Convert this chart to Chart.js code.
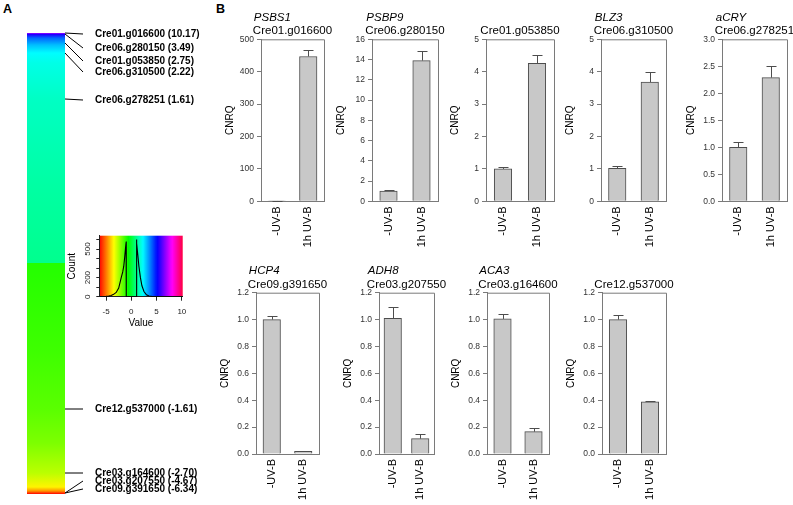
<!DOCTYPE html>
<html><head><meta charset="utf-8">
<script src="https://cdn.jsdelivr.net/npm/chart.js@4.4.1/dist/chart.umd.min.js"></script>
<style>
html,body{margin:0;padding:0;background:#fff;}
#wrap{position:relative;width:793px;height:505px;overflow:hidden;font-family:'Liberation Sans',Arial,sans-serif;background:#fff;}
canvas{position:absolute;}
.plabel{position:absolute;font-weight:bold;font-size:12.5px;line-height:12.5px;color:#000;}
</style></head><body><div id="wrap">
<div class="plabel" style="left:3px;top:3px">A</div>
<div class="plabel" style="left:216px;top:3px">B</div>
</div>
<script>
const FONT = "'Liberation Sans', Arial, sans-serif";

// ---------- Panel A: sorted log2 fold-change column ----------
const fcMin = -6.34, fcMax = 10.17;
const heatRows = 461;
const heatRow   = [0, 1.5, 5, 12, 20, 30, 66, 150, 230, 230, 320, 376, 410, 440, 454, 458, 461];
const heatValue = [7.0, 5.5, 4.0, 3.0, 2.3, 2.0, 1.61, 1.25, 1.0, -1.0, -1.3, -1.61, -2.0, -2.7, -3.6, -4.67, -6.34];

const labelIds     = ['Cre01.g016600','Cre06.g280150','Cre01.g053850','Cre06.g310500','Cre06.g278251','Cre12.g537000','Cre03.g164600','Cre03.g207550','Cre09.g391650'];
const labelFC      = [10.17, 3.49, 2.75, 2.22, 1.61, -1.61, -2.70, -4.67, -6.34];
const labelGeneRow = [0, 1, 10, 20, 66, 376, 440, 460, 460];
const labelTextRow = [1, 15, 28, 39, 67, 376, 440, 448, 456];

// ---------- Colour key histogram ----------
const keyX     = [-6.34,-5.5,-5.0,-4.5,-4.0,-3.5,-3.0,-2.5,-2.0,-1.7,-1.5,-1.3,-1.15,-1.03,-1.0,-1.0,1.0,1.0,1.1,1.3,1.5,1.8,2.1,2.5,3.0,3.5,4.0,5.0,6.0,10.17];
const keyCount = [0,1,3,6,12,25,45,90,200,260,320,420,510,570,580,0,0,600,560,430,320,200,115,55,20,8,3,1,0,0];
const keyXTicks  = [-5, 0, 5, 10];
const keyYTicks  = [0, 100, 200, 300, 400, 500, 600];
const keyYLabels = [0, 200, 500];

// ---------- Panel B: qRT-PCR ----------
const conditions = ['-UV-B', '1h UV-B'];
const geneNames  = ['PSBS1','PSBP9','','BLZ3','aCRY','HCP4','ADH8','ACA3',''];
const geneIds    = ['Cre01.g016600','Cre06.g280150','Cre01.g053850','Cre06.g310500','Cre06.g278251','Cre09.g391650','Cre03.g207550','Cre03.g164600','Cre12.g537000'];
const meanNoUV   = [1, 1.02, 1.0, 1.02, 1.0, 1.0, 1.01, 1.005, 1.0];
const errNoUV    = [1, 0.05, 0.06, 0.08, 0.09, 0.025, 0.085, 0.04, 0.032];
const mean1hUV   = [447, 13.9, 4.26, 3.68, 2.29, 0.02, 0.114, 0.166, 0.389];
const err1hUV    = [20, 0.9, 0.25, 0.3, 0.21, 0.003, 0.037, 0.025, 0.008];
const yMax       = [500, 16, 5, 5, 3, 1.2, 1.2, 1.2, 1.2];
const yStep      = [100, 2, 1, 1, 0.5, 0.2, 0.2, 0.2, 0.2];
const yDecimals  = [0, 0, 0, 0, 1, 1, 1, 1, 1];

// layout (pixels)
const plotLeft  = [261, 372, 486, 601, 722, 256, 379, 487, 602];
const plotRight = [324, 438, 554, 666, 787, 319, 434, 549, 666];
const rowTop = [39.3, 292.7], rowBottom = [201.3, 454];

function fcColor(v){
  const t = Math.max(0, Math.min(1, (v - fcMin) / (fcMax - fcMin)));
  return 'hsl(' + (t * 345).toFixed(1) + ',100%,50%)';
}
function mk(x, y, w, h){
  const c = document.createElement('canvas');
  c.width = w; c.height = h;
  c.style.left = x + 'px'; c.style.top = y + 'px';
  c.style.width = w + 'px'; c.style.height = h + 'px';
  document.getElementById('wrap').appendChild(c);
  return c;
}
const noPlug = {legend:{display:false}, tooltip:{enabled:false}};

// ---- Panel A column ----
const labelPlugin = {
  id:'geneLabels',
  afterDraw(ch){
    const c = ch.ctx, ys = ch.scales.y, a = ch.chartArea;
    c.save();
    c.strokeStyle = '#000'; c.lineWidth = 1; c.fillStyle = '#000';
    c.font = 'bold 10px ' + FONT; c.textBaseline = 'middle'; c.textAlign = 'left';
    labelIds.forEach((id, i) => {
      const y0 = ys.getPixelForValue(labelGeneRow[i]);
      const y1 = ys.getPixelForValue(labelTextRow[i]);
      c.beginPath(); c.moveTo(a.right, y0); c.lineTo(a.right + 18, y1); c.stroke();
      c.fillText(id + ' (' + labelFC[i].toFixed(2) + ')', a.right + 30, y1);
    });
    c.restore();
  }
};
new Chart(mk(0, 0, 205, 505), {
  type:'bar',
  data:{labels:['genes'], datasets:[{
    data:[[0, heatRows]],
    backgroundColor: ctx => {
      const ch = ctx.chart; if (!ch.chartArea) return '#00ff80';
      const ys = ch.scales.y;
      const g = ch.ctx.createLinearGradient(0, ys.getPixelForValue(0), 0, ys.getPixelForValue(heatRows));
      heatRow.forEach((r, i) => g.addColorStop(r / heatRows, fcColor(heatValue[i])));
      return g;
    },
    borderWidth:0, barPercentage:1, categoryPercentage:1
  }]},
  options:{responsive:false, animation:false, devicePixelRatio:1,
    layout:{padding:{left:27, right:205-65, top:33, bottom:11}},
    plugins:noPlug,
    scales:{x:{display:false}, y:{display:false, reverse:true, min:0, max:heatRows}}},
  plugins:[labelPlugin]
});

// ---- Colour key ----
const keyBg = {
  id:'keyBg',
  beforeDraw(ch){
    const c = ch.ctx, a = ch.chartArea, xs = ch.scales.x;
    const g = c.createLinearGradient(xs.getPixelForValue(fcMin), 0, xs.getPixelForValue(fcMax), 0);
    for (let k = 0; k <= 40; k++) g.addColorStop(k / 40, fcColor(fcMin + (fcMax - fcMin) * k / 40));
    c.save(); c.fillStyle = g; c.fillRect(a.left, a.top, a.right - a.left, a.bottom - a.top); c.restore();
  }
};
new Chart(mk(55, 225, 140, 105), {
  type:'line',
  data:{datasets:[{data:keyX.map((x, i) => ({x:x, y:keyCount[i]})), borderColor:'#000', borderWidth:1.1, pointRadius:0, tension:0, fill:false}]},
  options:{responsive:false, animation:false, devicePixelRatio:1,
    layout:{padding:{top:10.7, right:12.3, left:0, bottom:0}},
    plugins:noPlug,
    scales:{
      x:{type:'linear', min:fcMin, max:fcMax,
        afterBuildTicks: s => { s.ticks = keyXTicks.map(v => ({value:v})); },
        ticks:{font:{size:8, family:FONT}, color:'#222', padding:6, maxRotation:0, autoSkip:false},
        grid:{drawOnChartArea:false, tickLength:4, color:'#222'}, border:{color:'#222'},
        title:{display:true, text:'Value', font:{size:10, family:FONT}, color:'#000', padding:{top:0, bottom:1}},
        afterFit: s => { s.height = 33.3; }},
      y:{type:'linear', min:0, max:640,
        afterBuildTicks: s => { s.ticks = keyYTicks.map(v => ({value:v})); },
        ticks:{font:{size:8, family:FONT}, color:'#222', padding:1.5, minRotation:90, maxRotation:90, crossAlign:'center', autoSkip:false,
          callback: v => keyYLabels.includes(v) ? String(v) : ''},
        grid:{drawOnChartArea:false, tickLength:3, color:'#222'}, border:{color:'#222'},
        title:{display:true, text:'Count', font:{size:10, family:FONT}, color:'#000', padding:{top:11, bottom:0}},
        afterFit: s => { s.width = 44.3; }}
    }},
  plugins:[keyBg]
});

// ---- Panel B bar charts ----
function decoPlugin(i){
  return {
    id:'deco' + i,
    afterDatasetsDraw(ch){
      const c = ch.ctx, ys = ch.scales.y, meta = ch.getDatasetMeta(0);
      const means = [meanNoUV[i], mean1hUV[i]], errs = [errNoUV[i], err1hUV[i]];
      c.save(); c.strokeStyle = '#4d4d4d'; c.lineWidth = 1;
      meta.data.forEach((bar, j) => {
        const x = Math.round(bar.x) + 0.5;
        const y0 = ys.getPixelForValue(means[j]), y1 = Math.round(ys.getPixelForValue(means[j] + errs[j])) + 0.5;
        c.beginPath(); c.moveTo(x, y0); c.lineTo(x, y1); c.moveTo(x - 5, y1); c.lineTo(x + 5, y1); c.stroke();
      });
      c.restore();
    },
    afterDraw(ch){
      const c = ch.ctx, a = ch.chartArea;
      c.save();
      c.strokeStyle = '#7a7a7a'; c.lineWidth = 1;
      c.beginPath(); c.moveTo(a.left, a.top + 0.5); c.lineTo(a.right + 0.5, a.top + 0.5); c.lineTo(a.right + 0.5, a.bottom); c.stroke();
      c.fillStyle = '#000'; c.textBaseline = 'middle'; c.textAlign = 'left';
      c.font = '11.5px ' + FONT;
      const w = c.measureText(geneIds[i]).width;
      const x0 = (a.left + a.right) / 2 - w / 2;
      c.fillText(geneIds[i], x0, a.top - 8);
      if (geneNames[i]) { c.font = 'italic 11.5px ' + FONT; c.fillText(geneNames[i], x0 + 1, a.top - 21.5); }
      c.restore();
    }
  };
}
function barChart(i){
  const r = i < 5 ? 0 : 1;
  const L = plotLeft[i], R = plotRight[i], top = rowTop[r], bot = rowBottom[r];
  const padRight = 30;
  const cx = L - 45, cy = Math.floor(top - 36);
  const cw = R - cx + padRight, chh = Math.min(Math.ceil(bot - cy + 55), 505 - cy + 4);
  const padTop = top - cy, xH = chh - (bot - cy);
  new Chart(mk(cx, cy, cw, chh), {
    type:'bar',
    data:{labels:conditions, datasets:[{data:[meanNoUV[i], mean1hUV[i]], backgroundColor:'#c8c8c8', borderColor:'#4d4d4d', borderWidth:1, barThickness:17.5}]},
    options:{responsive:false, animation:false, devicePixelRatio:1,
      layout:{padding:{top:padTop, right:padRight, left:0, bottom:0}},
      plugins:noPlug,
      scales:{
        x:{ticks:{font:{size:11, family:FONT}, color:'#000', minRotation:90, maxRotation:90, padding:5, autoSkip:false},
          grid:{display:false, drawTicks:false}, border:{color:'#7a7a7a'},
          afterFit: s => { s.height = xH; }},
        y:{min:0, max:yMax[i],
          ticks:{stepSize:yStep[i], font:{size:8.5, family:FONT}, color:'#333', padding:3, autoSkip:false,
            callback: v => Number(v).toFixed(yDecimals[i])},
          grid:{drawOnChartArea:false, tickLength:4, color:'#7a7a7a'}, border:{color:'#7a7a7a'},
          title:{display:true, text:'CNRQ', font:{size:10, family:FONT}, color:'#000', padding:{top:8, bottom:0}},
          afterFit: s => { s.width = 45; }}
      }},
    plugins:[decoPlugin(i)]
  });
}
for (let i = 0; i < 9; i++) barChart(i);
</script>
</body></html>
